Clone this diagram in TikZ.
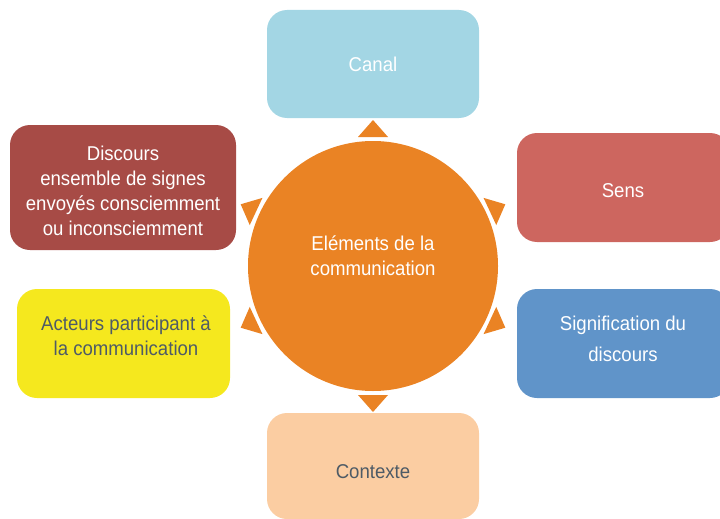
\documentclass[tikz,border=0pt]{standalone}
\usepackage{fontspec}
\setmainfont[FakeStretch=0.93]{Liberation Sans}
\definecolor{cblue}{HTML}{A3D6E4}
\definecolor{csens}{HTML}{CD665F}
\definecolor{csig}{HTML}{6094C9}
\definecolor{cctx}{HTML}{FBCDA2}
\definecolor{cact}{HTML}{F5E81E}
\definecolor{cdis}{HTML}{A74B46}
\definecolor{corange}{HTML}{EA8324}
\definecolor{cdark}{HTML}{4E5B66}
\tikzset{
  box/.style={rectangle, rounded corners=20pt, inner sep=0pt, align=center,
    font=\fontsize{20}{25}\selectfont},
  lbl/.style={align=center, inner sep=0pt, font=\fontsize{20}{25}\selectfont},
  tri/.style={fill=corange, draw=none},
}
\begin{document}
\begin{tikzpicture}[x=1pt,y=-1pt]
\useasboundingbox (0,0) rectangle (720,519);
% boxes
\node[box, fill=cblue, text=white, minimum width=212pt, minimum height=108pt] (canal) at (373,64) {Canal};
\node[box, fill=cctx, minimum width=212pt, minimum height=106pt] (ctx) at (373,466) {};
\node[lbl, text=cdark] (ctxt) at (373,472) {Contexte};
\node[box, fill=csens, minimum width=213pt, minimum height=109pt] (sens) at (623.5,187.5) {};
\node[lbl, text=white] (senst) at (623,191) {Sens};
\node[box, fill=csig, minimum width=213pt, minimum height=109pt] (sig) at (623.5,343.5) {};
\node[lbl, text=white, font=\fontsize{20}{31}\selectfont] (sigt) at (623,339) {Signification du\\discours};
\node[box, fill=cdis, minimum width=226pt, minimum height=125pt] (dis) at (123,187.5) {};
\node[lbl, text=white] (dist) at (123,191) {Discours\\ensemble de signes\\envoyés consciemment\\ou inconsciemment};
\node[box, fill=cact, minimum width=213pt, minimum height=109pt] (act) at (123.5,343.5) {};
\node[lbl, text=cdark] (actt) at (126,336) {Acteurs participant à\\la communication};
% circle
\node[circle, fill=corange, minimum size=250pt, inner sep=0pt] (c) at (373,266) {};
\node[lbl, text=white] (ct) at (373,256) {Eléments de la\\communication};
% triangles
\foreach \a in {90,270,25,-25,155,205}{
  \begin{scope}[shift={(c.center)}, rotate=-\a]
    \fill[tri] (129,15) -- (129,-15) -- (146,0) -- cycle;
  \end{scope}
}
\end{tikzpicture}
\end{document}
